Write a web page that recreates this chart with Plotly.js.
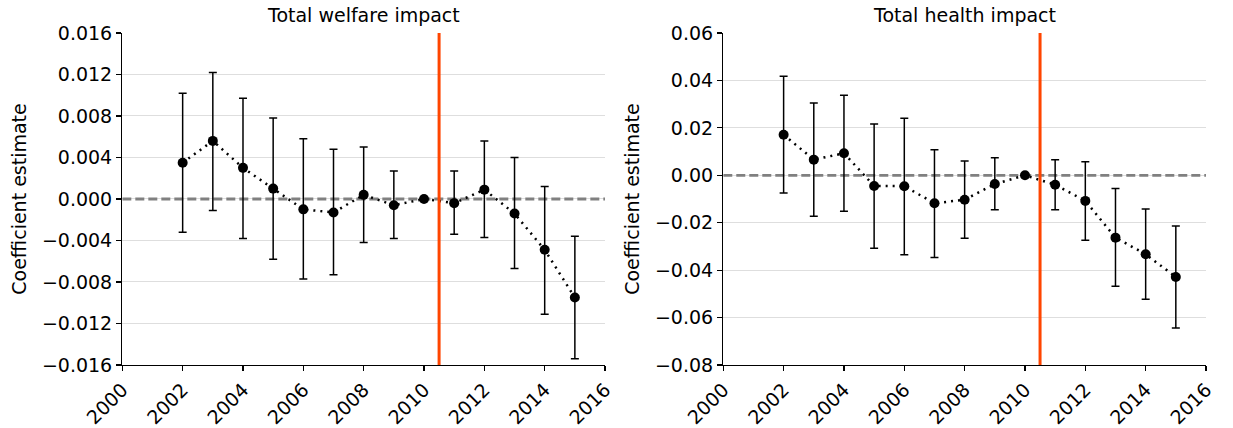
<!DOCTYPE html>
<html>
<head>
<meta charset="utf-8">
<script src="https://cdn.plot.ly/plotly-3.0.1.min.js"></script>
<style>
html,body{margin:0;padding:0;background:#fff;}
#chart{width:1233px;height:428px;}
</style>
</head>
<body>
<div id="chart"></div>
<script>
var years = [2002, 2003, 2004, 2005, 2006, 2007, 2008, 2009, 2010, 2011, 2012, 2013, 2014, 2015];

var welfare   = [0.0035, 0.0056, 0.0030, 0.0010, -0.0010, -0.0013, 0.0004, -0.0006, 0.0, -0.0004, 0.0009, -0.0014, -0.0049, -0.0095];
var welfareHi = [0.0102, 0.0122, 0.0097, 0.0078, 0.0058, 0.0048, 0.0050, 0.0027, null, 0.0027, 0.0056, 0.0040, 0.0012, -0.0036];
var welfareLo = [-0.0032, -0.0011, -0.0038, -0.0058, -0.0077, -0.0073, -0.0042, -0.0038, null, -0.0034, -0.0037, -0.0067, -0.0111, -0.0154];

var health   = [0.0171, 0.0066, 0.0093, -0.0045, -0.0046, -0.0118, -0.0103, -0.0037, 0.0, -0.0040, -0.0108, -0.0263, -0.0333, -0.0429];
var healthHi = [0.0418, 0.0305, 0.0337, 0.0216, 0.0240, 0.0108, 0.0060, 0.0074, null, 0.0066, 0.0057, -0.0056, -0.0142, -0.0214];
var healthLo = [-0.0075, -0.0173, -0.0152, -0.0308, -0.0335, -0.0347, -0.0266, -0.0145, null, -0.0145, -0.0274, -0.0468, -0.0523, -0.0644];

var titles = ["Total welfare impact", "Total health impact"];
var yTitle = "Coefficient estimate";
var xRange = [2000, 2016];
var xTicks = [2000, 2002, 2004, 2006, 2008, 2010, 2012, 2014, 2016];
var welfareTicks = [-0.016, -0.012, -0.008, -0.004, 0.000, 0.004, 0.008, 0.012, 0.016];
var healthTicks = [-0.08, -0.06, -0.04, -0.02, 0.00, 0.02, 0.04, 0.06];
var refValue = 0;
var policyYear = 2010.5;

function errs(v, hi, lo) {
  var up = [], dn = [];
  for (var i = 0; i < v.length; i++) {
    up.push(hi[i] === null ? null : hi[i] - v[i]);
    dn.push(lo[i] === null ? null : v[i] - lo[i]);
  }
  return {up: up, dn: dn};
}

function trace(v, hi, lo, xa, ya) {
  var e = errs(v, hi, lo);
  return {
    x: years, y: v, xaxis: xa, yaxis: ya,
    type: 'scatter', mode: 'lines+markers',
    line: {color: '#000', width: 2.5, dash: '2px,5px'},
    marker: {color: '#000', size: 10},
    error_y: {type: 'data', symmetric: false, array: e.up, arrayminus: e.dn,
              color: '#000', thickness: 1.5, width: 4},
    showlegend: false, cliponaxis: false
  };
}

function refTrace(xa, ya) {
  return {
    x: xRange, y: [refValue, refValue], xaxis: xa, yaxis: ya,
    type: 'scatter', mode: 'lines', hoverinfo: 'skip',
    line: {color: '#808080', width: 2.8, dash: '9px,4px'},
    showlegend: false
  };
}

var data = [
  refTrace('x', 'y'),
  refTrace('x2', 'y2'),
  trace(welfare, welfareHi, welfareLo, 'x', 'y'),
  trace(health, healthHi, healthLo, 'x2', 'y2')
];

var font = {family: 'DejaVu Sans, sans-serif', size: 19, color: '#000'};

function xaxis(dom, anchor) {
  return {
    domain: dom, anchor: anchor, range: xRange,
    tickvals: xTicks, ticktext: xTicks.map(String), tickangle: -45,
    ticks: 'outside', ticklen: 5, tickwidth: 1.2, tickcolor: '#000',
    showline: true, linecolor: '#000', linewidth: 1.3,
    showgrid: false, zeroline: false, tickfont: font
  };
}
function yaxis(dom, anchor, range, ticks, fmt) {
  return {
    domain: dom, anchor: anchor, range: range,
    tickvals: ticks, tickformat: fmt,
    ticks: 'outside', ticklen: 5, tickwidth: 1.2, tickcolor: '#000',
    showline: true, linecolor: '#000', linewidth: 1.3,
    showgrid: true, gridcolor: '#dedede', gridwidth: 1, zeroline: false,
    tickfont: font,
    title: {text: yTitle, font: font, standoff: 10}
  };
}

var yDom = [0.1472, 0.9229];
var redLine = {color: '#ff4500', width: 3};
var layout = {
  width: 1233, height: 428,
  margin: {l: 0, r: 0, t: 0, b: 0},
  paper_bgcolor: '#fff', plot_bgcolor: '#fff',
  font: font,
  xaxis: xaxis([0.0992, 0.4907], 'y'),
  yaxis: yaxis(yDom, 'x', [-0.016, 0.016], welfareTicks, '.3f'),
  xaxis2: xaxis([0.5866, 0.9781], 'y2'),
  yaxis2: yaxis(yDom, 'x2', [-0.08, 0.06], healthTicks, '.2f'),
  shapes: [
    {type: 'line', xref: 'x', yref: 'y domain', x0: policyYear, x1: policyYear, y0: 0, y1: 1,
     line: redLine, layer: 'above'},
    {type: 'line', xref: 'x2', yref: 'y2 domain', x0: policyYear, x1: policyYear, y0: 0, y1: 1,
     line: redLine, layer: 'above'}
  ],
  annotations: [
    {text: titles[0], xref: 'paper', yref: 'paper', x: (0.0992 + 0.4907) / 2, y: 0.965,
     xanchor: 'center', yanchor: 'middle', showarrow: false, font: font},
    {text: titles[1], xref: 'paper', yref: 'paper', x: (0.5866 + 0.9781) / 2, y: 0.965,
     xanchor: 'center', yanchor: 'middle', showarrow: false, font: font}
  ]
};

Plotly.newPlot('chart', data, layout, {staticPlot: true, displayModeBar: false});
</script>
</body>
</html>
